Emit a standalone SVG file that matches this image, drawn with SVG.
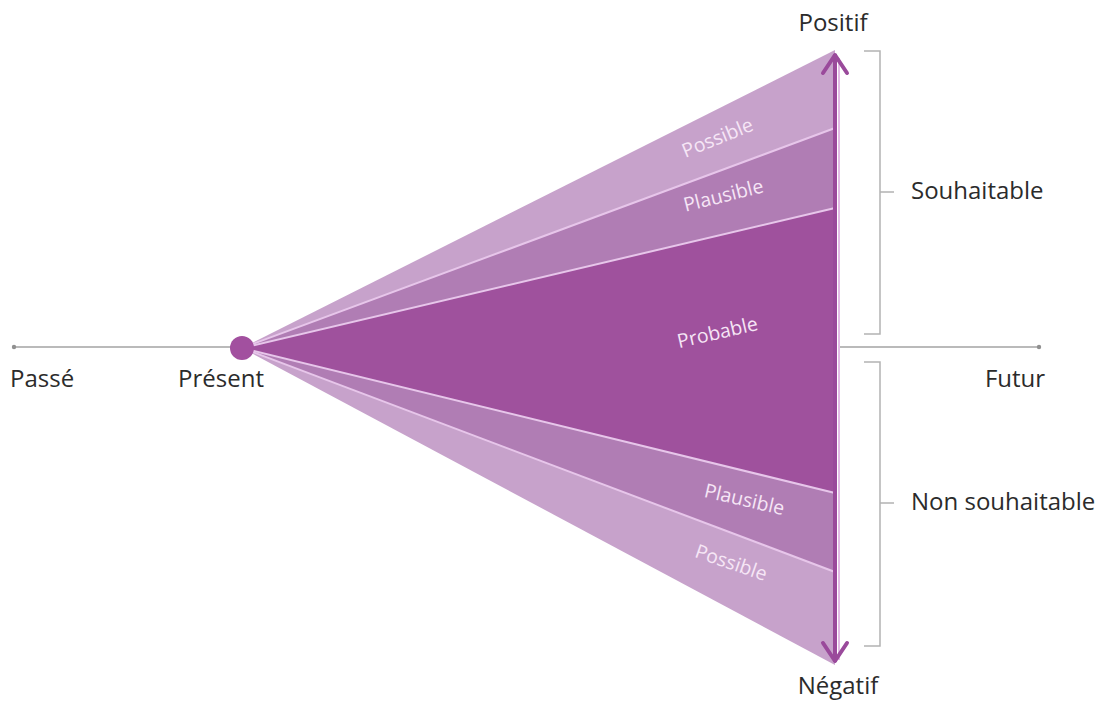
<svg xmlns="http://www.w3.org/2000/svg" width="1109" height="701" viewBox="0 0 1109 701">
<style>
.lbl{font-family:"Open Sans","Liberation Sans",sans-serif;font-size:24px;fill:#2b2b2b}
.band{font-family:"Open Sans","Liberation Sans",sans-serif;font-size:19.5px;fill:#f6e6f6}
.sep{stroke:#e7c6ea;stroke-width:2;fill:none}
.axis{stroke:#a3a3a3;stroke-width:1.5;fill:none}
.brk{stroke:#b3b3b3;stroke-width:1.5;fill:none}
</style>
<rect width="1109" height="701" fill="#ffffff"/>
<g id="connectors">
  <line class="axis" x1="14" y1="347" x2="232" y2="347"/>
  <line class="axis" x1="840" y1="347" x2="1039" y2="347"/>
  <circle cx="14" cy="347" r="2.2" fill="#909090"/>
  <circle cx="1039" cy="347" r="2.2" fill="#909090"/>
</g>
<g id="fan">
  <polygon id="possible-top" points="242,348 835,50 835,128" fill="#c7a2cb"/>
  <polygon id="plausible-top" points="242,348 835,128 835,208" fill="#b07db4"/>
  <polygon id="probable" points="242,348 835,208 835,493" fill="#9f519d"/>
  <polygon id="plausible-bottom" points="242,348 835,493 835,572" fill="#b07db4"/>
  <polygon id="possible-bottom" points="242,348 835,572 835,665" fill="#c7a2cb"/>
  <line class="sep" x1="242" y1="348" x2="835" y2="128"/>
  <line class="sep" x1="242" y1="348" x2="835" y2="208"/>
  <line class="sep" x1="242" y1="348" x2="835" y2="493"/>
  <line class="sep" x1="242" y1="348" x2="835" y2="572"/>
</g>
<g id="band-labels">
  <text class="band" text-anchor="middle" transform="translate(720,144) rotate(-22)">Possible</text>
  <text class="band" text-anchor="middle" transform="translate(725,202) rotate(-14)">Plausible</text>
  <text class="band" text-anchor="middle" transform="translate(719,339) rotate(-13)">Probable</text>
  <text class="band" text-anchor="middle" transform="translate(743,506) rotate(13)">Plausible</text>
  <text class="band" text-anchor="middle" transform="translate(729,569) rotate(19)">Possible</text>
</g>
<g id="vertical-axis">
  <line x1="839" y1="58" x2="839" y2="660" stroke="#e4bce6" stroke-width="2"/>
  <line x1="835" y1="54" x2="835" y2="662" stroke="#9a4a9b" stroke-width="4"/>
  <polyline points="823,73 835,55 847,73" fill="none" stroke="#9a4a9b" stroke-width="4" stroke-linejoin="round" stroke-linecap="round"/>
  <polyline points="823,643 835,661 847,643" fill="none" stroke="#9a4a9b" stroke-width="4" stroke-linejoin="round" stroke-linecap="round"/>
</g>
<g id="present">
  <circle cx="242" cy="348" r="12" fill="#a2509f"/>
  <text class="lbl" x="221" y="387" text-anchor="middle">Présent</text>
</g>
<g id="passe"><text class="lbl" x="10" y="387">Passé</text></g>
<g id="futur"><text class="lbl" x="1015" y="387" text-anchor="middle">Futur</text></g>
<g id="positif"><text class="lbl" x="833" y="31" text-anchor="middle">Positif</text></g>
<g id="negatif"><text class="lbl" x="838" y="694" text-anchor="middle">Négatif</text></g>
<g id="souhaitable">
  <path class="brk" d="M864,51 H880 V334 H864 M880,192 H894"/>
  <text class="lbl" x="911" y="199">Souhaitable</text>
</g>
<g id="non-souhaitable">
  <path class="brk" d="M864,362 H880 V646 H864 M880,503 H894"/>
  <text class="lbl" x="911" y="510">Non souhaitable</text>
</g>
</svg>
